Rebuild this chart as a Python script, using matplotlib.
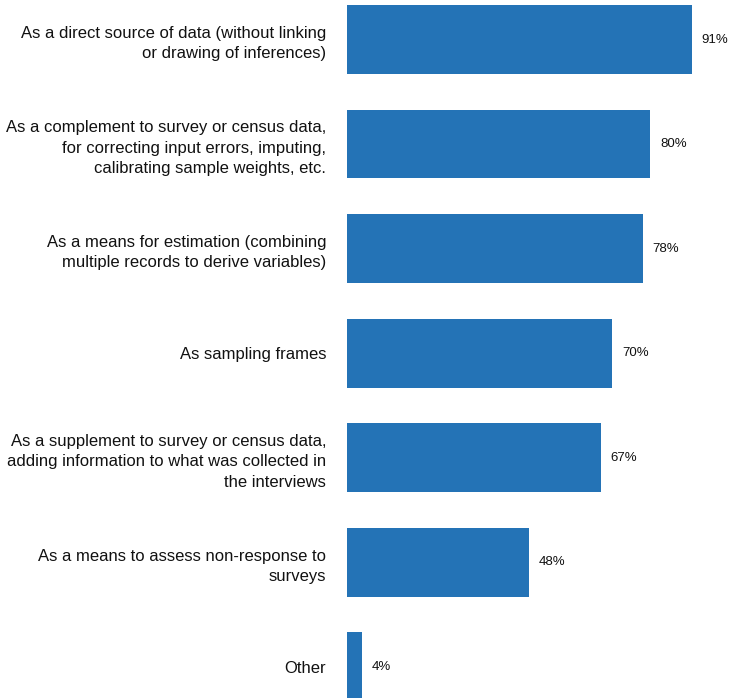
import matplotlib.pyplot as plt

plt.rcParams['font.family'] = ['Liberation Sans', 'DejaVu Sans']

# Uses of administrative records, share of respondents (%)
categories = [
    'As a direct source of data (without linking\nor drawing of inferences)',
    'As a complement to survey or census data,\nfor correcting input errors, imputing,\ncalibrating sample weights, etc.',
    'As a means for estimation (combining\nmultiple records to derive variables)',
    'As sampling frames',
    'As a supplement to survey or census data,\nadding information to what was collected in\nthe interviews',
    'As a means to assess non-response to\nsurveys',
    'Other',
]
values = [91, 80, 78, 70, 67, 48, 4]

fig = plt.figure(figsize=(7.30, 6.98), dpi=100)
ax = fig.add_axes([347 / 730, 0, 379 / 730, 1])

pos = list(range(len(values)))
ax.barh(pos, values, height=0.66, color='#2473b6')

for p, v in zip(pos, values):
    ax.text(v + 2.6, p, f'{v}%', va='center', ha='left', fontsize=9.5, color='#111111')

ax.set_xlim(0, 100)
ax.set_ylim(6.301, -0.378)
ax.set_yticks(pos)
ax.set_yticklabels(categories, fontsize=12, color='#111111', linespacing=1.45)
ax.tick_params(axis='y', length=0, pad=15)
ax.set_xticks([])
for s in ax.spines.values():
    s.set_visible(False)

fig.savefig('out.png', dpi=100)
